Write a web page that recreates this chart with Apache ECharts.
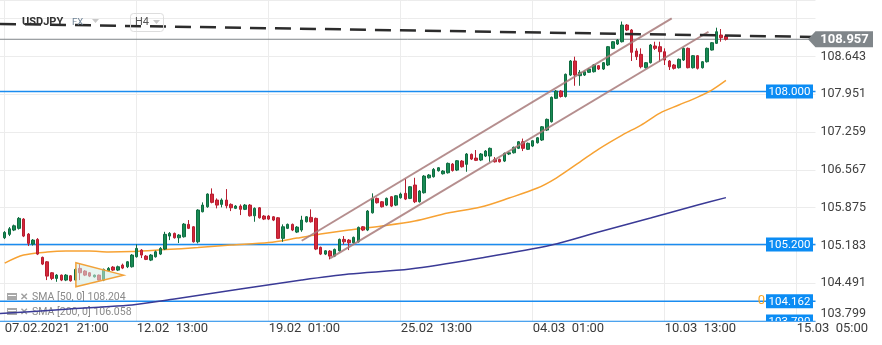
<!DOCTYPE html>
<html>
<head>
<meta charset="utf-8">
<script src="https://cdn.jsdelivr.net/npm/echarts@6/dist/echarts.min.js"></script>
<style>
  html, body { margin: 0; padding: 0; background: #ffffff; }
  #chart { width: 882px; height: 345px; }
</style>
</head>
<body>
<div id="chart"></div>
<script>
// USDJPY, H4 candles with SMA(50), SMA(200), price levels and drawn trend tools

const FONT = "Roboto, 'Noto Sans', sans-serif";

// Bar-axis tick labels (one every 28 bars)
const tickBars = [0, 28, 56, 84, 112, 140, 168];
const tickLabels = ['07.02.2021  21:00', '12.02  13:00', '19.02  01:00', '25.02  13:00',
                    '04.03  01:00', '10.03  13:00', '15.03  05:00'];
const lastBarSlot = 172;   // axis reaches into the future area

// Candle values, bar 0 .. 153
const opens = [105.323,105.385,105.464,105.495,105.665,105.390,105.207,105.293,104.964,104.883,
  104.682,104.579,104.639,104.548,104.627,104.548,104.762,104.713,104.682,104.608,
  104.639,104.548,104.718,104.786,104.731,104.823,104.792,104.792,104.975,105.097,
  104.987,104.914,104.975,105.024,105.116,105.354,105.403,105.323,105.341,105.568,
  105.524,105.249,105.799,105.890,106.123,106.013,105.934,106.013,105.934,105.861,
  105.903,105.843,105.921,105.725,105.872,105.720,105.720,105.707,105.689,105.312,
  105.495,105.568,105.427,105.464,105.616,105.696,105.678,105.147,105.024,105.079,
  104.987,105.084,105.293,105.280,105.231,105.249,105.524,105.464,105.780,106.044,
  105.982,105.921,106.074,105.921,106.055,106.136,106.044,106.288,105.982,106.147,
  106.421,106.440,106.550,106.495,106.513,106.672,106.562,106.727,106.667,106.850,
  106.782,106.746,106.819,106.819,106.758,106.758,106.727,106.856,106.879,106.960,
  107.081,106.942,107.002,107.062,107.112,107.295,107.447,107.876,108.009,107.909,
  108.302,108.559,108.290,108.302,108.352,108.363,108.473,108.412,108.486,108.791,
  108.870,108.912,109.218,109.127,108.742,108.681,108.436,108.528,108.834,108.821,
  108.729,108.559,108.486,108.436,108.577,108.791,108.436,108.656,108.436,108.546,
  108.760,108.883,109.035,109.017];
const closes = [105.421,105.487,105.542,105.678,105.354,105.220,105.280,105.024,104.841,104.621,
  104.579,104.639,104.548,104.639,104.535,104.744,104.682,104.639,104.621,104.639,
  104.548,104.744,104.762,104.731,104.792,104.768,104.883,105.006,105.128,105.006,
  104.927,105.006,105.066,105.128,105.385,105.403,105.323,105.372,105.573,105.495,
  105.249,105.830,105.921,106.123,105.971,105.921,106.013,105.909,105.872,105.903,
  105.843,105.921,105.725,105.861,105.689,105.665,105.665,105.647,105.312,105.524,
  105.568,105.464,105.518,105.647,105.707,105.616,105.116,105.024,105.084,104.987,
  105.110,105.293,105.249,105.231,105.330,105.513,105.464,105.812,106.044,105.964,
  105.890,106.044,105.903,106.092,106.123,106.031,106.257,105.982,106.178,106.452,
  106.471,106.575,106.605,106.544,106.685,106.553,106.733,106.623,106.856,106.764,
  106.740,106.856,106.910,106.960,106.714,106.714,106.868,106.879,106.978,107.081,
  106.960,107.052,107.099,107.154,107.355,107.491,107.894,108.009,107.909,108.315,
  108.559,108.302,108.352,108.363,108.412,108.486,108.412,108.528,108.821,108.912,
  108.943,109.218,109.127,108.718,108.638,108.454,108.528,108.852,108.791,108.729,
  108.577,108.454,108.425,108.590,108.791,108.436,108.656,108.425,108.546,108.791,
  108.894,109.095,108.986,108.957];
const highs = [105.445,105.519,105.564,105.702,105.683,105.409,105.299,105.317,104.978,104.896,
  104.694,104.658,104.649,104.658,104.639,104.768,104.841,104.731,104.694,104.649,
  104.649,104.758,104.786,104.804,104.813,104.850,104.896,105.024,105.202,105.116,
  105.006,105.024,105.088,105.152,105.432,105.427,105.418,105.390,105.592,105.647,
  105.537,105.845,105.971,106.136,106.227,106.044,106.044,106.214,105.953,105.921,
  105.934,105.940,105.940,105.879,105.885,105.738,105.738,105.720,105.702,105.568,
  105.583,105.583,105.537,105.725,105.720,105.843,105.693,105.161,105.097,105.097,
  105.125,105.308,105.354,105.299,105.345,105.528,105.537,105.830,106.136,106.059,
  105.995,106.059,106.086,106.105,106.150,106.398,106.269,106.421,106.196,106.471,
  106.489,106.599,106.617,106.562,106.700,106.691,106.746,106.746,106.874,106.865,
  106.929,106.874,106.929,106.975,106.801,106.773,106.883,106.901,106.993,107.094,
  107.139,107.066,107.112,107.167,107.368,107.506,107.909,108.027,108.027,108.330,
  108.577,108.638,108.394,108.385,108.431,108.504,108.486,108.540,108.834,108.925,
  108.962,109.282,109.236,109.145,108.791,108.791,108.540,108.870,108.912,108.912,
  108.791,108.577,108.504,108.605,108.806,108.806,108.669,108.669,108.559,108.806,
  108.907,109.169,109.145,109.035];
const lows = [105.299,105.354,105.445,105.473,105.335,105.171,105.180,105.006,104.823,104.548,
  104.548,104.517,104.529,104.529,104.520,104.529,104.548,104.621,104.603,104.594,
  104.539,104.529,104.703,104.713,104.713,104.749,104.768,104.777,104.960,104.951,
  104.914,104.896,104.960,105.006,105.097,105.280,105.308,105.226,105.326,105.482,
  105.235,105.220,105.788,105.872,105.953,105.861,105.879,105.861,105.811,105.848,
  105.738,105.830,105.711,105.616,105.674,105.647,105.647,105.628,105.299,105.249,
  105.482,105.445,105.409,105.432,105.601,105.601,105.097,105.006,105.006,104.927,
  104.969,105.070,105.201,105.097,105.216,105.235,105.445,105.445,105.766,105.949,
  105.876,105.903,105.885,105.903,106.040,106.013,106.031,105.958,105.967,106.132,
  106.407,106.425,106.535,106.480,106.498,106.535,106.544,106.608,106.531,106.746,
  106.727,106.727,106.801,106.714,106.700,106.700,106.709,106.837,106.865,106.947,
  106.910,106.929,106.984,107.048,107.094,107.277,107.432,107.863,107.890,107.890,
  108.284,108.106,108.106,108.284,108.339,108.348,108.394,108.394,108.467,108.779,
  108.852,108.898,109.108,108.559,108.577,108.425,108.421,108.513,108.760,108.546,
  108.486,108.394,108.403,108.421,108.559,108.425,108.421,108.403,108.421,108.531,
  108.751,108.870,108.912,108.934];

// SMA(50) and SMA(200) readings at selected bars
const sma50Bars   = [0, 4, 9, 13, 18, 22, 27, 34, 41, 48, 56, 62, 67, 73, 80, 87, 94, 101, 107, 113,
                     117, 122, 126, 131, 135, 139, 143, 147, 150, 153];
const sma50Values = [104.859, 105.006, 105.061, 105.079, 105.079, 105.061, 105.070, 105.106, 105.143, 105.189,
                     105.235, 105.317, 105.390, 105.464, 105.537, 105.628, 105.775, 105.885, 106.050, 106.233,
                     106.416, 106.709, 106.947, 107.203, 107.387, 107.606, 107.753, 107.899, 108.027, 108.204];
const sma200Bars   = [-1, 10, 20, 27, 36, 50, 63, 73, 86, 101, 116, 126, 137, 147, 153];
const sma200Values = [103.934, 103.998, 104.053, 104.090, 104.200, 104.383, 104.548, 104.658, 104.749, 104.951,
                      105.189, 105.427, 105.683, 105.921, 106.058];

// Horizontal price levels and their tags
const levelPrices = [108.000, 105.200, 104.162, 103.790];
const levelPrefix = ['', '', '0', ''];

// Drawn tools (bar position, price)
const trendBars = [-1, 172];            const trendPrices = [109.238, 109.000];
const upperChannelBars = [63.0, 141.5]; const upperChannelPrices = [105.268, 109.341];
const lowerChannelBars = [69.0, 149.3]; const lowerChannelPrices = [104.945, 109.095];
const triangleBars = [15.1, 15.1, 25.2]; const trianglePrices = [104.865, 104.425, 104.639];

// Y-axis ticks
const yMin = 103.799, yMax = 109.676, yStep = 0.692;

const lastPrice = closes[closes.length - 1];

// ---- build ----
const categories = [];
for (let b = -1; b <= lastBarSlot; b++) categories.push(String(b));
const candleData = [['-', '-', '-', '-']].concat(opens.map((o, i) => [o, closes[i], lows[i], highs[i]]));
const isTick = (idx) => tickBars.indexOf(idx - 1) >= 0;
const pair = (bars, vals) => bars.map((b, i) => [b, vals[i]]);

const lineSeries = (name, data, style, z) => ({
  name, type: 'line', xAxisIndex: 1, yAxisIndex: 0, data, symbol: 'none',
  lineStyle: style, z, silent: true, animation: false
});

const gridClip = (params) => ({
  type: 'rect',
  shape: { x: params.coordSys.x, y: params.coordSys.y, width: params.coordSys.width, height: params.coordSys.height }
});

const series = [];

// horizontal levels
levelPrices.forEach((p, i) => {
  series.push(lineSeries('level' + i, [[-1, p], [lastBarSlot, p]], { color: '#1a8cf0', width: 1.5 }, 2));
});
series.push(lineSeries('last', [[-1, lastPrice], [lastBarSlot, lastPrice]], { color: '#7f8589', width: 1 }, 2));

// moving averages
series.push(Object.assign(lineSeries('SMA 50', pair(sma50Bars, sma50Values), { color: '#f7a233', width: 1.5 }, 3), { smooth: 0.3 }));
series.push(Object.assign(lineSeries('SMA 200', pair(sma200Bars, sma200Values), { color: '#3a3a96', width: 1.5 }, 3), { smooth: 0.3 }));

// candles
series.push({
  name: 'USDJPY', type: 'candlestick', xAxisIndex: 0, yAxisIndex: 0,
  data: candleData, barWidth: 3, z: 4, animation: false,
  itemStyle: { color: '#188a54', color0: '#d4283b', borderColor: '#0f6d41', borderColor0: '#b81e30', borderWidth: 1 }
});

// channel and trend line
series.push(lineSeries('channelUp', pair(upperChannelBars, upperChannelPrices), { color: 'rgba(168,122,122,0.85)', width: 2 }, 5));
series.push(lineSeries('channelDown', pair(lowerChannelBars, lowerChannelPrices), { color: 'rgba(168,122,122,0.85)', width: 2 }, 5));
series.push(lineSeries('trend', pair(trendBars, trendPrices), { color: '#2c2c2c', width: 2.5, type: [16, 9] }, 6));

// triangle
series.push({
  name: 'triangle', type: 'custom', xAxisIndex: 1, yAxisIndex: 0, z: 5, animation: false, silent: true,
  data: [[triangleBars[0], trianglePrices[0]]],
  renderItem: (params, api) => ({
    type: 'polygon',
    shape: { points: triangleBars.map((b, i) => api.coord([b, trianglePrices[i]])) },
    style: { fill: 'rgba(214,236,228,0.55)', stroke: '#f2a23a', lineWidth: 1.5 }
  })
});

// blue level tags, cut at the plot edge
series.push({
  name: 'tags', type: 'custom', xAxisIndex: 1, yAxisIndex: 0, z: 7, animation: false, silent: true,
  data: levelPrices.map((p) => [lastBarSlot, p]),
  renderItem: (params, api) => {
    const p = api.coord([api.value(0), api.value(1)]);
    const w = 47, h = 14, right = p[0] - 2.5;
    const kids = [
      { type: 'rect', shape: { x: right - w, y: p[1] - h / 2, width: w, height: h }, style: { fill: '#0b8cf4' } },
      { type: 'text', style: { text: api.value(1).toFixed(3), x: right - w / 2, y: p[1] + 0.5, fill: '#ffffff',
          font: '11.5px ' + FONT, align: 'center', verticalAlign: 'middle' } }
    ];
    const pre = levelPrefix[params.dataIndex];
    if (pre) {
      kids.push({ type: 'text', style: { text: pre, x: right - w - 1, y: p[1], fill: '#f5a524',
        font: '13px ' + FONT, align: 'right', verticalAlign: 'middle' } });
    }
    return { type: 'group', children: kids, clipPath: gridClip(params) };
  }
});

// last price tag
series.push({
  name: 'priceTag', type: 'custom', xAxisIndex: 1, yAxisIndex: 0, z: 8, clip: false, animation: false, silent: true,
  data: [[lastBarSlot, lastPrice]],
  renderItem: (params, api) => {
    const p = api.coord([api.value(0), api.value(1)]);
    const x0 = p[0] - 7.5, y = p[1];
    return { type: 'group', children: [
      { type: 'polygon', shape: { points: [[x0, y], [x0 + 7.5, y - 8], [x0 + 65, y - 8], [x0 + 65, y + 8], [x0 + 7.5, y + 8]] },
        style: { fill: '#80868a' } },
      { type: 'text', style: { text: api.value(1).toFixed(3), x: x0 + 36.5, y: y + 0.5, fill: '#ffffff',
          font: 'bold 13px ' + FONT, align: 'center', verticalAlign: 'middle' } }
    ] };
  }
});

const legendRow = (y, text) => [
  { type: 'rect', shape: { x: 7, y: y - 4, width: 10, height: 7 }, style: { fill: '#a8a8a8' } },
  { type: 'line', shape: { x1: 8, y1: y - 1.5, x2: 16, y2: y - 1.5 }, style: { stroke: '#ffffff', lineWidth: 1 } },
  { type: 'text', x: 20, y: y, style: { text: '✕', font: 'bold 10px ' + FONT, fill: '#a0a0a0', verticalAlign: 'middle' } },
  { type: 'text', x: 32, y: y, style: { text: text, font: '10.5px ' + FONT, fill: '#8a8a8a', verticalAlign: 'middle' } }
];

const option = {
  animation: false,
  backgroundColor: '#ffffff',
  grid: { left: 0, right: 66.5, top: 0, bottom: 24, containLabel: false },
  xAxis: [
    {
      type: 'category', data: categories, boundaryGap: false,
      axisLine: { show: true, lineStyle: { color: '#e6e6e6' } },
      axisTick: { show: false },
      axisLabel: {
        interval: (idx) => isTick(idx), align: 'left', margin: 1, color: '#3b3b3b',
        fontSize: 13, fontFamily: FONT,
        formatter: (v) => { const k = tickBars.indexOf(Number(v)); return k >= 0 ? tickLabels[k] : ''; }
      },
      splitLine: { show: true, interval: (idx) => isTick(idx), lineStyle: { color: '#ececec' } }
    },
    { type: 'value', min: -1, max: lastBarSlot, show: false }
  ],
  yAxis: {
    type: 'value', position: 'right', min: yMin, max: yMax, interval: yStep, scale: true,
    axisLine: { show: false }, axisTick: { show: false },
    splitLine: { lineStyle: { color: '#ececec' } },
    axisLabel: {
      margin: 5, color: '#404040', fontSize: 12.5, fontFamily: FONT, showMaxLabel: false,
      formatter: (v) => {
        if (v > 109) return '';
        if (Math.abs(v - yMin) < 0.01) return '{lo|' + v.toFixed(3) + '}';
        return v.toFixed(3);
      },
      rich: { lo: { padding: [0, 0, 14, 0], fontSize: 12.5, color: '#404040', fontFamily: FONT } }
    }
  },
  graphic: [
    { type: 'text', x: 22, y: 22, z: 20, style: { text: 'USDJPY', font: 'bold 11px ' + FONT, fill: '#333333', verticalAlign: 'middle' } },
    { type: 'text', x: 72, y: 23, z: 20, style: { text: 'FX', font: '9.5px ' + FONT, fill: '#6f8396', verticalAlign: 'middle' } },
    { type: 'polygon', z: 20, shape: { points: [[92, 19], [99, 19], [95.5, 23]] }, style: { fill: '#c9c9c9' } },
    { type: 'rect', z: 20, shape: { x: 130.5, y: 13.5, width: 33, height: 18, r: 3 }, style: { fill: 'rgba(255,255,255,0)', stroke: '#dddddd', lineWidth: 1 } },
    { type: 'text', x: 135, y: 22.5, z: 20, style: { text: 'H4', font: '11px ' + FONT, fill: '#555555', verticalAlign: 'middle' } },
    { type: 'polygon', z: 20, shape: { points: [[153, 20], [160, 20], [156.5, 24]] }, style: { fill: '#c9c9c9' } }
  ].concat(
    legendRow(297, 'SMA [50, 0] ' + sma50Values[sma50Values.length - 1].toFixed(3)),
    legendRow(312, 'SMA [200, 0] ' + sma200Values[sma200Values.length - 1].toFixed(3))
  ),
  series
};

const chart = echarts.init(document.getElementById('chart'), null, { renderer: 'canvas' });
chart.setOption(option);
</script>
</body>
</html>
